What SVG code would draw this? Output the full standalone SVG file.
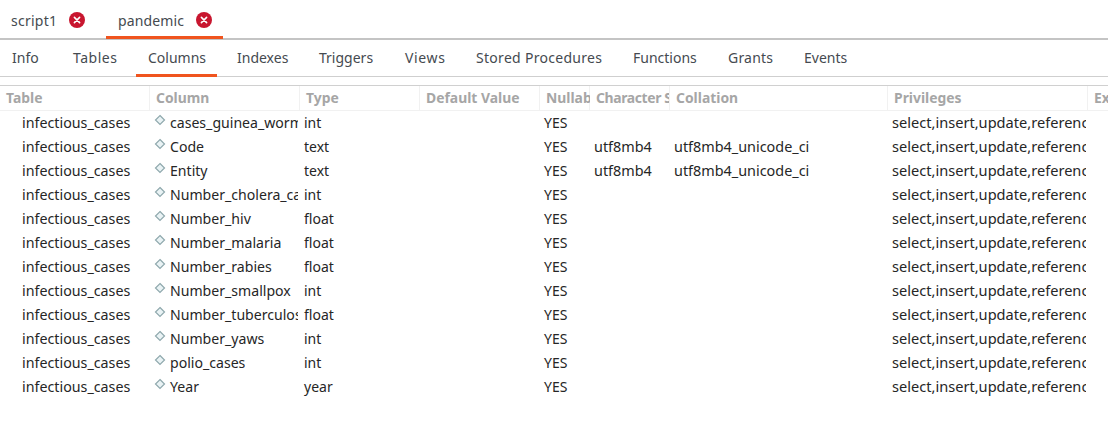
<svg xmlns="http://www.w3.org/2000/svg" width="1108" height="427" viewBox="0 0 1108 427">
<style>
text{font-family:"Noto Sans","Open Sans","Liberation Sans",sans-serif;font-size:14px}
.tab{fill:#454a50}
.h{fill:#a6a6a6;font-weight:700;font-size:13.9px}
.c{fill:#262626}
.t{font-size:14.27px}
.cl{font-size:14.4px}
.p{font-size:14.6px}
.n{font-size:14.1px}
.sep{stroke:#f1f1f1;stroke-width:1}
.or{fill:#f0541e}
.x{stroke:#fff;stroke-width:1.6;stroke-linecap:round}
.d{fill:#eaf3f5;stroke:#8fa8ad;stroke-width:1.2}
</style>
<defs>
<clipPath id="cCol"><rect x="150" y="85" width="148" height="320"/></clipPath>
<clipPath id="cNull"><rect x="540" y="85" width="50" height="26"/></clipPath>
<clipPath id="cChar"><rect x="590" y="85" width="79" height="26"/></clipPath>
<clipPath id="cPriv"><rect x="885" y="85" width="201" height="320"/></clipPath>
<g id="close"><circle r="8" fill="#c8162f"/><path class="x" d="M-2.6-2.6L2.6 2.6M2.6-2.6L-2.6 2.600"/></g>
<path id="dia" class="d" d="M160 115.500L164.500 120L160 124.500L155.500 120Z"/>
</defs>
<rect width="1108" height="427" fill="#fff"/>
<g id="tabs">
<rect x="0" y="38" width="1108" height="2" fill="#c4c4c4"/>
<text class="tab" x="11" y="26" textLength="46">script1</text>
<use href="#close" x="77" y="20"/>
<text class="tab" x="118" y="26" textLength="66">pandemic</text>
<use href="#close" x="204" y="20"/>
<rect class="or" x="106" y="36" width="117" height="3"/>
</g>
<g id="subtabs">
<text class="tab" x="12" y="63">Info</text>
<text class="tab" x="73" y="63" textLength="44">Tables</text>
<text class="tab" x="148" y="63">Columns</text>
<text class="tab" x="237" y="63">Indexes</text>
<text class="tab" x="319" y="63">Triggers</text>
<text class="tab" x="405" y="63" textLength="40">Views</text>
<text class="tab" x="476" y="63" textLength="126">Stored Procedures</text>
<text class="tab" x="633" y="63">Functions</text>
<text class="tab" x="728" y="63" textLength="45">Grants</text>
<text class="tab" x="804" y="63">Events</text>
<rect x="0" y="76" width="1108" height="1" fill="#cfcfcf"/>
<rect class="or" x="136" y="74" width="81" height="3"/>
</g>
<g id="header">
<rect x="0" y="85" width="1108" height="1" fill="#d0d0d0"/>
<path class="sep" d="M149.500 86V110M299.500 86V110M419.500 86V110M539.500 86V110M589.500 86V110M669.500 86V110M887.500 86V110M1087.500 86V110M0 110.500H1108" fill="none"/>
<text class="h" x="6" y="103">Table</text>
<text class="h" x="156" y="103">Column</text>
<text class="h" x="306" y="103">Type</text>
<text class="h" x="426" y="103">Default Value</text>
<text class="h" x="546" y="103" clip-path="url(#cNull)">Nullab</text>
<text class="h" x="596" y="103" clip-path="url(#cChar)" textLength="76">Character S</text>
<text class="h" x="676" y="103">Collation</text>
<text class="h" x="894" y="103">Privileges</text>
<text class="h" x="1094" y="103">Ex</text>
</g>
<g id="table-col">
<text class="c t" x="22" y="128">infectious_cases</text>
<text class="c t" x="22" y="152">infectious_cases</text>
<text class="c t" x="22" y="176">infectious_cases</text>
<text class="c t" x="22" y="200">infectious_cases</text>
<text class="c t" x="22" y="224">infectious_cases</text>
<text class="c t" x="22" y="248">infectious_cases</text>
<text class="c t" x="22" y="272">infectious_cases</text>
<text class="c t" x="22" y="296">infectious_cases</text>
<text class="c t" x="22" y="320">infectious_cases</text>
<text class="c t" x="22" y="344">infectious_cases</text>
<text class="c t" x="22" y="368">infectious_cases</text>
<text class="c t" x="22" y="392">infectious_cases</text>
</g>
<g id="column-icons">
<use href="#dia"/><use href="#dia" y="24"/><use href="#dia" y="48"/><use href="#dia" y="72"/><use href="#dia" y="96"/><use href="#dia" y="120"/><use href="#dia" y="144"/><use href="#dia" y="168"/><use href="#dia" y="192"/><use href="#dia" y="216"/><use href="#dia" y="240"/><use href="#dia" y="264"/>
</g>
<g id="column-col" clip-path="url(#cCol)">
<text class="c n" x="170" y="128">cases_guinea_worm</text>
<text class="c n" x="170" y="152">Code</text>
<text class="c n" x="170" y="176">Entity</text>
<text class="c n" x="170" y="200">Number_cholera_ca</text>
<text class="c n" x="170" y="224">Number_hiv</text>
<text class="c n" x="170" y="248">Number_malaria</text>
<text class="c n" x="170" y="272">Number_rabies</text>
<text class="c n" x="170" y="296">Number_smallpox</text>
<text class="c n" x="170" y="320">Number_tuberculos</text>
<text class="c n" x="170" y="344">Number_yaws</text>
<text class="c n" x="170" y="368">polio_cases</text>
<text class="c n" x="170" y="392">Year</text>
</g>
<g id="type-col">
<text class="c" x="304" y="128">int</text>
<text class="c" x="304" y="152">text</text>
<text class="c" x="304" y="176">text</text>
<text class="c" x="304" y="200">int</text>
<text class="c" x="304" y="224">float</text>
<text class="c" x="304" y="248">float</text>
<text class="c" x="304" y="272">float</text>
<text class="c" x="304" y="296">int</text>
<text class="c" x="304" y="320">float</text>
<text class="c" x="304" y="344">int</text>
<text class="c" x="304" y="368">int</text>
<text class="c" x="304" y="392">year</text>
</g>
<g id="nullable-col">
<text class="c" x="544" y="128">YES</text>
<text class="c" x="544" y="152">YES</text>
<text class="c" x="544" y="176">YES</text>
<text class="c" x="544" y="200">YES</text>
<text class="c" x="544" y="224">YES</text>
<text class="c" x="544" y="248">YES</text>
<text class="c" x="544" y="272">YES</text>
<text class="c" x="544" y="296">YES</text>
<text class="c" x="544" y="320">YES</text>
<text class="c" x="544" y="344">YES</text>
<text class="c" x="544" y="368">YES</text>
<text class="c" x="544" y="392">YES</text>
</g>
<g id="charset-col">
<text class="c cl" x="594" y="152">utf8mb4</text>
<text class="c cl" x="594" y="176">utf8mb4</text>
<text class="c cl" x="674" y="152">utf8mb4_unicode_ci</text>
<text class="c cl" x="674" y="176">utf8mb4_unicode_ci</text>
</g>
<g id="priv-col" clip-path="url(#cPriv)">
<text class="c p" x="892" y="128">select,insert,update,referenc</text>
<text class="c p" x="892" y="152">select,insert,update,referenc</text>
<text class="c p" x="892" y="176">select,insert,update,referenc</text>
<text class="c p" x="892" y="200">select,insert,update,referenc</text>
<text class="c p" x="892" y="224">select,insert,update,referenc</text>
<text class="c p" x="892" y="248">select,insert,update,referenc</text>
<text class="c p" x="892" y="272">select,insert,update,referenc</text>
<text class="c p" x="892" y="296">select,insert,update,referenc</text>
<text class="c p" x="892" y="320">select,insert,update,referenc</text>
<text class="c p" x="892" y="344">select,insert,update,referenc</text>
<text class="c p" x="892" y="368">select,insert,update,referenc</text>
<text class="c p" x="892" y="392">select,insert,update,referenc</text>
</g>
</svg>
